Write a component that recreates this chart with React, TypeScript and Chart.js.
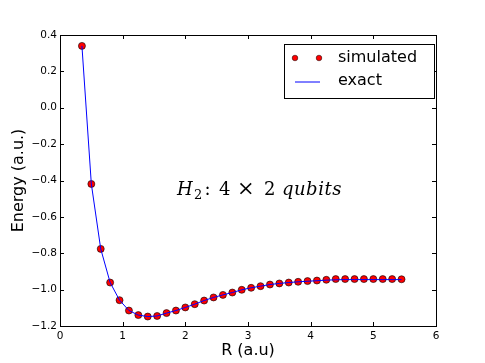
import React, { useEffect, useRef } from "react";
import { Chart, registerables } from "chart.js";

Chart.register(...registerables);

const rValues = [
  0.35, 0.5, 0.65, 0.8, 0.95, 1.1, 1.25, 1.4, 1.55, 1.7, 1.85, 2.0, 2.15, 2.3, 2.45,
  2.6, 2.75, 2.9, 3.05, 3.2, 3.35, 3.5, 3.65, 3.8, 3.95, 4.1, 4.25, 4.4, 4.55, 4.7,
  4.85, 5.0, 5.15, 5.3, 5.45,
];
const simulatedEnergy = [
  0.34, -0.419, -0.776, -0.961, -1.058, -1.115, -1.14, -1.148, -1.145, -1.129, -1.115,
  -1.098, -1.08, -1.06, -1.043, -1.029, -1.016, -1.001, -0.99, -0.981, -0.972, -0.966,
  -0.961, -0.957, -0.953, -0.95, -0.946, -0.942, -0.942, -0.942, -0.942, -0.942, -0.942,
  -0.942, -0.943,
];
const exactEnergy = [
  0.34, -0.419, -0.776, -0.961, -1.058, -1.115, -1.14, -1.148, -1.145, -1.129, -1.115,
  -1.098, -1.08, -1.06, -1.043, -1.029, -1.016, -1.001, -0.99, -0.981, -0.972, -0.966,
  -0.961, -0.957, -0.954, -0.951, -0.948, -0.946, -0.945, -0.945, -0.945, -0.945, -0.945,
  -0.945, -0.945,
];
const xTicks = [0, 1, 2, 3, 4, 5, 6];
const yTicks = [-1.2, -1.0, -0.8, -0.6, -0.4, -0.2, 0.0, 0.2, 0.4];
const seriesNames = ["simulated", "exact"];
const xTitle = "R (a.u)";
const yTitle = "Energy (a.u.)";

const framePlugin = {
  id: "frameTicks",
  afterDraw(chart: any) {
    const ctx = chart.ctx;
    const { left, right, top, bottom } = chart.chartArea;
    const xs = chart.scales.x;
    const ys = chart.scales.y;
    ctx.save();
    ctx.strokeStyle = "#000";
    ctx.lineWidth = 1;
    const tl = 4;
    ctx.beginPath();
    for (const v of xTicks) {
      const px = Math.round(xs.getPixelForValue(v)) + 0.5;
      ctx.moveTo(px, bottom);
      ctx.lineTo(px, bottom - tl);
      ctx.moveTo(px, top);
      ctx.lineTo(px, top + tl);
    }
    for (const v of yTicks) {
      const py = Math.round(ys.getPixelForValue(v)) + 0.5;
      ctx.moveTo(left, py);
      ctx.lineTo(left + tl, py);
      ctx.moveTo(right, py);
      ctx.lineTo(right - tl, py);
    }
    ctx.stroke();
    ctx.strokeRect(Math.round(left) + 0.5, Math.round(top) + 0.5, Math.round(right - left), Math.round(bottom - top));

    // legend
    const bx = 284.5, by = 44.5, bw = 150, bh = 54;
    ctx.fillStyle = "#fff";
    ctx.fillRect(bx, by, bw, bh);
    ctx.strokeStyle = "#000";
    ctx.strokeRect(bx, by, bw, bh);
    for (const dx of [295, 319]) {
      ctx.beginPath();
      ctx.arc(dx, 58, 2.8, 0, Math.PI * 2);
      ctx.fillStyle = "#ff0000";
      ctx.fill();
      ctx.lineWidth = 0.5;
      ctx.strokeStyle = "#000";
      ctx.stroke();
    }
    ctx.beginPath();
    ctx.strokeStyle = "#0000ff";
    ctx.lineWidth = 1;
    ctx.moveTo(295, 82);
    ctx.lineTo(320, 82);
    ctx.stroke();
    ctx.fillStyle = "#000";
    ctx.font = "16px 'DejaVu Sans'";
    ctx.textBaseline = "middle";
    ctx.textAlign = "left";
    ctx.fillText(seriesNames[0], 338, 58);
    ctx.fillText(seriesNames[1], 338, 81);

    // annotation
    const base = 195;
    const big = "18px 'DejaVu Serif'";
    const bigIt = "italic 18px 'DejaVu Serif'";
    const small = "13px 'DejaVu Serif'";
    ctx.textBaseline = "alphabetic";
    ctx.font = bigIt;
    ctx.fillText("H", 177, base);
    ctx.font = small;
    ctx.fillText("2", 194, base + 4);
    ctx.font = big;
    ctx.fillText(":", 204.5, base);
    ctx.fillText("4", 219, base);
    ctx.font = "21px 'DejaVu Serif'";
    ctx.fillText("\u00d7", 237, base);
    ctx.font = big;
    ctx.fillText("2", 264, base);
    ctx.font = bigIt;
    (ctx as any).letterSpacing = "0.5px";
    ctx.fillText("qubits", 282, base);
    ctx.restore();
  },
};

export default function App() {
  const ref = useRef<HTMLCanvasElement>(null);
  useEffect(() => {
    document.body.style.margin = "0";
    const canvas = ref.current!;
    const chart = new Chart(canvas, {
      type: "scatter",
      data: {
        datasets: [
          {
            label: seriesNames[1],
            data: rValues.map((x, i) => ({ x, y: exactEnergy[i] })),
            showLine: true,
            borderColor: "#0000ff",
            borderWidth: 1,
            pointRadius: 0,
            tension: 0,
            order: 0,
          },
          {
            label: seriesNames[0],
            data: rValues.map((x, i) => ({ x, y: simulatedEnergy[i] })),
            showLine: false,
            backgroundColor: "#ff0000",
            borderColor: "#000",
            borderWidth: 0.6,
            pointRadius: 3.5,
            order: 1,
          },
        ],
      },
      options: {
        animation: false,
        responsive: false,
        events: [],
        layout: { padding: { left: 0, right: 49, top: 35, bottom: 0 } },
        plugins: { legend: { display: false }, tooltip: { enabled: false } },
        scales: {
          x: {
            type: "linear",
            min: 0,
            max: 6,
            grid: { display: false, drawTicks: false, tickLength: 0 },
            border: { display: false },
            ticks: {
              stepSize: 1,
              padding: 4,
              color: "#000",
              font: { family: "'DejaVu Sans'", size: 10.5 },
              callback: (v: any) => String(v),
            },
            title: {
              display: true,
              text: xTitle,
              color: "#000",
              font: { family: "'DejaVu Sans'", size: 16 },
              padding: { top: 0, bottom: 2.5 },
            },
            afterFit: (s: any) => {
              s.height = 37;
            },
          },
          y: {
            type: "linear",
            min: -1.2,
            max: 0.4,
            grid: { display: false, drawTicks: false, tickLength: 0 },
            border: { display: false },
            ticks: {
              stepSize: 0.2,
              padding: 3,
              color: "#000",
              font: { family: "'DejaVu Sans'", size: 10.5 },
              callback: (v: any) => Number(v).toFixed(1).replace("-", "\u2212"),
            },
            title: {
              display: true,
              text: yTitle,
              color: "#000",
              font: { family: "'DejaVu Sans'", size: 16 },
              padding: { top: 9.5, bottom: 0 },
            },
            afterFit: (s: any) => {
              s.width = 60;
            },
          },
        },
      },
      plugins: [framePlugin],
    });
    return () => chart.destroy();
  }, []);
  return <canvas ref={ref} width={485} height={363} style={{ display: "block" }} />;
}
